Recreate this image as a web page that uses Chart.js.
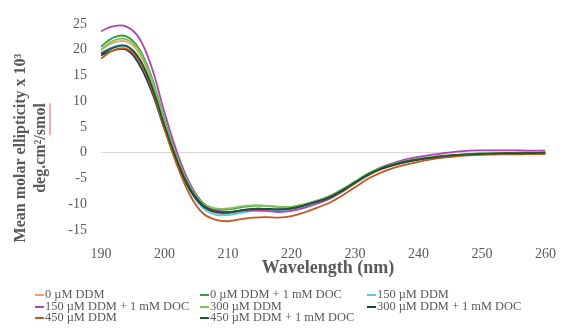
<!DOCTYPE html>
<html>
<head>
<meta charset="utf-8">
<script src="https://cdn.jsdelivr.net/npm/chart.js@4"></script>
<style>
  html, body { margin:0; padding:0; background:#fff; }
  #wrap { position:relative; width:564px; height:329px; }
  #legend { position:absolute; left:35px; top:289px; display:grid;
    grid-template-columns:165px 167px 200px; grid-auto-rows:11.7px;
    font:12.4px "Liberation Serif", serif; color:#595959; }
  #legend div { display:flex; align-items:center; white-space:nowrap; line-height:11.7px; }
  #legend span { display:inline-block; width:9px; height:2px; margin-right:1px; }
</style>
</head>
<body>
<div id="wrap">
  <canvas id="cd" width="564" height="329"></canvas>
  <div id="legend"></div>
</div>
<script>
const wavelengths = [190,192,194,196,198,200,202,204,206,208,210,212,214,216,218,220,222,224,226,228,230,232,234,236,238,240,242,244,246,248,250,252,254,256,258,260];

const seriesNames = ['0 µM DDM','0 µM DDM + 1 mM DOC','150 µM DDM','150 µM DDM + 1 mM DOC','300 µM DDM','300 µM DDM + 1 mM DOC','450 µM DDM','450 µM DDM + 1 mM DOC'];
const seriesColors = ['#F4A064','#3E9E3E','#5CC6EE','#B142B1','#82C45C','#24384A','#C05A24','#1F5530'];

const ddm0 = [20.0,21.4,21.6,19.3,13.8,5.9,-1.2,-6.9,-10.3,-11.7,-11.9,-11.5,-11.2,-11.2,-11.3,-11.1,-10.5,-9.8,-8.9,-7.6,-6.0,-4.5,-3.3,-2.5,-1.8,-1.4,-1.0,-0.7,-0.5,-0.35,-0.3,-0.25,-0.2,-0.2,-0.15,-0.15];
const ddm0Doc = [20.6,22.4,22.6,20.2,14.6,6.4,-0.8,-6.3,-9.7,-10.9,-11.0,-10.6,-10.3,-10.3,-10.5,-10.5,-10.0,-9.3,-8.4,-7.1,-5.6,-4.1,-3.0,-2.2,-1.6,-1.2,-0.85,-0.6,-0.4,-0.25,-0.15,-0.1,-0.05,0.0,0.0,0.0];
const ddm150 = [19.4,20.6,20.8,18.4,13.0,5.2,-1.8,-7.3,-10.7,-12.0,-12.1,-11.7,-11.3,-11.1,-11.2,-11.0,-10.4,-9.7,-8.8,-7.5,-5.9,-4.4,-3.2,-2.4,-1.75,-1.3,-0.95,-0.65,-0.45,-0.3,-0.2,-0.15,-0.1,-0.1,-0.05,-0.05];
const ddm150Doc = [23.6,24.6,24.5,22.3,16.5,7.8,0.0,-6.0,-9.7,-11.1,-11.5,-11.3,-11.2,-11.3,-11.5,-11.3,-10.7,-9.9,-8.9,-7.5,-5.8,-4.2,-2.9,-2.0,-1.3,-0.8,-0.4,-0.1,0.2,0.4,0.45,0.45,0.45,0.45,0.4,0.4];
const ddm300 = [20.0,21.8,22.0,19.8,14.2,6.0,-1.0,-6.5,-9.8,-10.8,-10.8,-10.4,-10.2,-10.3,-10.5,-10.5,-10.0,-9.3,-8.4,-7.1,-5.6,-4.1,-3.0,-2.2,-1.6,-1.2,-0.85,-0.6,-0.4,-0.25,-0.15,-0.1,-0.05,0.0,0.0,0.0];
const ddm300Doc = [18.9,19.9,20.0,17.2,11.8,4.6,-2.0,-7.2,-10.3,-11.5,-11.6,-11.2,-10.9,-10.9,-11.0,-10.8,-10.2,-9.5,-8.6,-7.3,-5.8,-4.3,-3.2,-2.4,-1.8,-1.35,-1.0,-0.7,-0.5,-0.35,-0.25,-0.2,-0.15,-0.15,-0.1,-0.1];
const ddm450 = [18.3,19.9,20.2,17.9,12.4,4.6,-2.5,-8.2,-11.7,-13.0,-13.3,-12.9,-12.6,-12.5,-12.6,-12.3,-11.6,-10.7,-9.7,-8.3,-6.7,-5.1,-3.9,-3.0,-2.3,-1.75,-1.3,-0.95,-0.7,-0.5,-0.4,-0.35,-0.3,-0.3,-0.25,-0.2];
const ddm450Doc = [19.2,20.4,20.7,18.3,12.9,5.3,-1.5,-6.9,-10.1,-11.4,-11.6,-11.2,-10.9,-10.9,-11.0,-10.8,-10.2,-9.5,-8.7,-7.4,-5.8,-4.3,-3.1,-2.3,-1.7,-1.3,-0.95,-0.65,-0.45,-0.3,-0.2,-0.15,-0.1,-0.1,-0.05,0.0];

const seriesValues = [ddm0, ddm0Doc, ddm150, ddm150Doc, ddm300, ddm300Doc, ddm450, ddm450Doc];
const xTicks = [190,200,210,220,230,240,250,260];
const yTicks = [-15,-10,-5,0,5,10,15,20,25];

const FONT = '"Liberation Serif", "Times New Roman", serif';
const GRAY = '#595959';

// axis titles drawn by hand so they sit where Excel put them
const titles = {
  id:'titles',
  afterDraw(chart){
    const c = chart.ctx;
    c.save();
    c.fillStyle = GRAY;
    c.textAlign = 'center';
    c.textBaseline = 'middle';
    c.font = 'bold 18px ' + FONT;
    c.fillText('Wavelength (nm)', 328, 268);
    c.translate(0, 148);
    c.rotate(-Math.PI/2);
    c.font = 'bold 16px ' + FONT;
    c.fillText('Mean molar ellipticity x 10³', 0, 21);
    c.fillText('deg.cm²/smol', 0, 41);
    // spell-check squiggle under "smol"
    const w = c.measureText('deg.cm²/smol').width;
    const w2 = c.measureText('smol').width;
    c.strokeStyle = '#E06060';
    c.lineWidth = 1;
    c.beginPath();
    c.moveTo(w/2 - w2, 50);
    c.lineTo(w/2, 50);
    c.stroke();
    c.restore();
  }
};

const datasets = seriesNames.map((name, i) => ({
  label: name,
  data: wavelengths.map((w, j) => ({x:w, y:seriesValues[i][j]})),
  borderColor: seriesColors[i],
  borderWidth: 1.8,
  pointRadius: 0,
  tension: 0.4,
  fill: false,
  order: seriesNames.length - i
}));

new Chart(document.getElementById('cd'), {
  type:'line',
  data:{ datasets },
  options:{
    responsive:false,
    animation:false,
    layout:{ padding:{ left:0, right:11, top:24, bottom:0 } },
    plugins:{ legend:{ display:false }, tooltip:{ enabled:false } },
    scales:{
      x:{
        type:'linear', min:190, max:260,
        afterBuildTicks: s => { s.ticks = xTicks.map(v => ({value:v})); },
        afterFit: s => { s.height = 99; },
        grid:{ display:false },
        border:{ display:false },
        ticks:{ color:GRAY, font:{ family:FONT, size:14 }, padding:8, maxRotation:0 }
      },
      y:{
        min:-15, max:25,
        afterBuildTicks: s => { s.ticks = yTicks.map(v => ({value:v})); },
        afterFit: s => { s.width = 101; },
        grid:{ color: ctx => ctx.tick && ctx.tick.value === 0 ? '#D9D9D9' : 'rgba(0,0,0,0)', drawTicks:false, lineWidth:1 },
        border:{ display:false },
        ticks:{ color:GRAY, font:{ family:FONT, size:14 }, padding:14 }
      }
    }
  },
  plugins:[titles]
});

const legend = document.getElementById('legend');
seriesNames.forEach((name, i) => {
  const d = document.createElement('div');
  d.innerHTML = `<span style="background:${seriesColors[i]}"></span>${name}`;
  legend.appendChild(d);
});
</script>
</body>
</html>
